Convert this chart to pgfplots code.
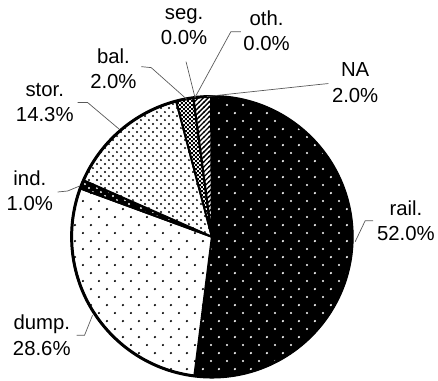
\documentclass[border=0pt]{standalone}
\usepackage{pgfplots}
\pgfplotsset{compat=1.18}
\usepackage{fontspec}
\setmainfont{Liberation Sans}
\usetikzlibrary{patterns}

\pgfdeclarepatternformonly{sparsedots}{\pgfqpoint{0pt}{0pt}}{\pgfqpoint{16bp}{16bp}}{\pgfqpoint{16bp}{16bp}}{%
  \pgfpathcircle{\pgfqpoint{4bp}{4bp}}{1.2bp}%
  \pgfpathcircle{\pgfqpoint{12bp}{12bp}}{1.2bp}%
  \pgfusepath{fill}}
\pgfdeclarepatternformonly{densedots}{\pgfqpoint{0pt}{0pt}}{\pgfqpoint{8bp}{8bp}}{\pgfqpoint{8bp}{8bp}}{%
  \pgfpathcircle{\pgfqpoint{2bp}{2bp}}{1.05bp}%
  \pgfpathcircle{\pgfqpoint{6bp}{6bp}}{1.05bp}%
  \pgfusepath{fill}}
\pgfdeclarepatternformonly{checker}{\pgfqpoint{0pt}{0pt}}{\pgfqpoint{4bp}{4bp}}{\pgfqpoint{4bp}{4bp}}{%
  \pgfpathrectangle{\pgfqpoint{0bp}{0bp}}{\pgfqpoint{2bp}{2bp}}%
  \pgfpathrectangle{\pgfqpoint{2bp}{2bp}}{\pgfqpoint{2bp}{2bp}}%
  \pgfusepath{fill}}
\pgfdeclarepatternformonly{nelines}{\pgfqpoint{-1bp}{-1bp}}{\pgfqpoint{6bp}{6bp}}{\pgfqpoint{5bp}{5bp}}{%
  \pgfsetlinewidth{1.3bp}%
  \pgfpathmoveto{\pgfqpoint{-0.5bp}{-0.5bp}}\pgfpathlineto{\pgfqpoint{5.5bp}{5.5bp}}%
  \pgfusepath{stroke}}

\tikzset{
  slice/.style={draw=black, line width=2bp, line join=round},
  railstyle/.style={slice, preaction={fill=black}, pattern=sparsedots, pattern color=white},
  dumpstyle/.style={slice, preaction={fill=white}, pattern=sparsedots, pattern color=black},
  indstyle/.style={slice, preaction={fill=black}, pattern=densedots, pattern color=white},
  storstyle/.style={slice, preaction={fill=white}, pattern=densedots, pattern color=black},
  balstyle/.style={slice, preaction={fill=white}, pattern=checker, pattern color=black},
  nonestyle/.style={slice},
  nastyle/.style={slice, preaction={fill=white}, pattern=nelines, pattern color=black},
  leader/.style={draw=black!65, line width=0.7bp},
}
\newcommand\lab{\fontsize{20.5}{25.5}\selectfont}

\begin{document}
\begin{tikzpicture}
\begin{axis}[scale only axis, width=438bp, height=382bp,
  xmin=0, xmax=438, ymin=0, ymax=382, hide axis, clip=false]
\draw[draw=none] (axis cs:0,0) rectangle (axis cs:438,382);
\gdef\cum{0}
\foreach \v/\sty in {52.0/railstyle, 28.6/dumpstyle, 1.0/indstyle, 14.3/storstyle, 2.0/balstyle, 0.0/nonestyle, 0.0/nonestyle, 2.0/nastyle} {
  \pgfmathsetmacro\a{90-\cum*3.6}
  \pgfmathsetmacro\b{90-(\cum+\v)*3.6}
  \edef\tmp{\noexpand\draw[\sty] (axis cs:213,144) -- ++(\a:141bp) arc[start angle=\a, end angle=\b, radius=141bp] -- cycle;}
  \tmp
  \pgfmathsetmacro\newcum{\cum+\v}
  \global\let\cum\newcum
}
\draw[line width=3bp] (axis cs:213,144) circle[radius=141bp];
% leader lines
\draw[leader] (axis cs:375,160) -- (axis cs:367,160) -- (axis cs:357,139);
\draw[leader] (axis cs:330,298) -- (axis cs:320,297) -- (axis cs:208,285);
\draw[leader] (axis cs:242,350) -- (axis cs:232,350) -- (axis cs:196,284);
\draw[leader] (axis cs:187,320) -- (axis cs:196,284);
\draw[leader] (axis cs:142,315) -- (axis cs:152,314) -- (axis cs:188,282);
\draw[leader] (axis cs:78,279) -- (axis cs:88,279) -- (axis cs:120,252);
\draw[leader] (axis cs:58,189) -- (axis cs:68,190) -- (axis cs:80,195);
\draw[leader] (axis cs:77,45) -- (axis cs:85,45) -- (axis cs:93,65);
% labels
\node[align=center, font=\lab] at (axis cs:408,160) {rail.\\52.0\%};
\node[align=center, font=\lab] at (axis cs:357,299) {NA\\2.0\%};
\node[align=center, font=\lab] at (axis cs:268,351) {oth.\\0.0\%};
\node[align=center, font=\lab] at (axis cs:185,355) {seg.\\0.0\%};
\node[align=center, font=\lab] at (axis cs:114,313) {bal.\\2.0\%};
\node[align=center, font=\lab] at (axis cs:45,279) {stor.\\14.3\%};
\node[align=center, font=\lab] at (axis cs:30,190) {ind.\\1.0\%};
\node[align=center, font=\lab] at (axis cs:42,45) {dump.\\28.6\%};
\end{axis}
\end{tikzpicture}
\end{document}
